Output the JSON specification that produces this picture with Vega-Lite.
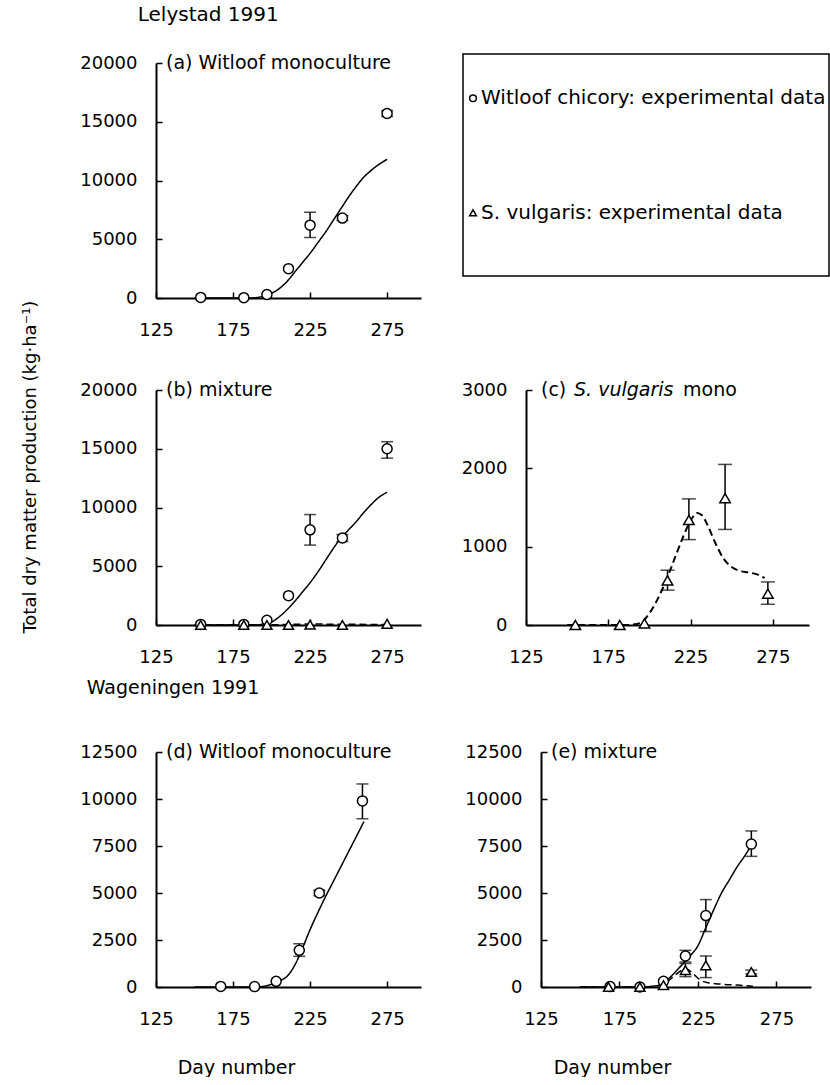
{
  "$schema": "https://vega.github.io/schema/vega-lite/v6.json",
  "background": "white",
  "padding": {"left": 21, "top": 5, "right": 0, "bottom": 0},
  "config": {
    "font": "DejaVu Sans",
    "view": {"stroke": null},
    "axis": {"domainColor": "black", "domainWidth": 2, "tickColor": "black", "tickWidth": 1.5, "tickSize": -6, "labelFont": "DejaVu Sans", "labelFontSize": 18, "labelColor": "black", "grid": false, "titleFont": "DejaVu Sans", "titleFontSize": 19, "titleFontWeight": "normal", "titleColor": "black"},
    "axisX": {"labelPadding": 29, "labelFlush": false},
    "axisY": {"labelPadding": 25},
    "title": {"font": "DejaVu Sans", "fontSize": 20, "fontWeight": "normal", "color": "black", "anchor": "start"}
  },
  "datasets": {
    "obs": [
      {"panel": "a", "species": "Witloof", "day": 154, "dm": 50},
      {"panel": "a", "species": "Witloof", "day": 182, "dm": 30},
      {"panel": "a", "species": "Witloof", "day": 197, "dm": 300},
      {"panel": "a", "species": "Witloof", "day": 211, "dm": 2500},
      {"panel": "a", "species": "Witloof", "day": 225, "dm": 6200, "lo": 5150, "hi": 7300},
      {"panel": "a", "species": "Witloof", "day": 246, "dm": 6800, "lo": 6600, "hi": 7000},
      {"panel": "a", "species": "Witloof", "day": 275, "dm": 15700, "lo": 15450, "hi": 15950},
      {"panel": "b", "species": "Witloof", "day": 154, "dm": 50},
      {"panel": "b", "species": "Witloof", "day": 182, "dm": 50},
      {"panel": "b", "species": "Witloof", "day": 197, "dm": 400},
      {"panel": "b", "species": "Witloof", "day": 211, "dm": 2500},
      {"panel": "b", "species": "Witloof", "day": 225, "dm": 8100, "lo": 6800, "hi": 9400},
      {"panel": "b", "species": "Witloof", "day": 246, "dm": 7400, "lo": 7100, "hi": 7700},
      {"panel": "b", "species": "Witloof", "day": 275, "dm": 15000, "lo": 14200, "hi": 15600},
      {"panel": "b", "species": "S. vulgaris", "day": 154, "dm": 0},
      {"panel": "b", "species": "S. vulgaris", "day": 182, "dm": 0},
      {"panel": "b", "species": "S. vulgaris", "day": 197, "dm": 0},
      {"panel": "b", "species": "S. vulgaris", "day": 211, "dm": 0},
      {"panel": "b", "species": "S. vulgaris", "day": 225, "dm": 20},
      {"panel": "b", "species": "S. vulgaris", "day": 246, "dm": 0},
      {"panel": "b", "species": "S. vulgaris", "day": 275, "dm": 100},
      {"panel": "c", "species": "S. vulgaris", "day": 155, "dm": 0},
      {"panel": "c", "species": "S. vulgaris", "day": 182, "dm": 0},
      {"panel": "c", "species": "S. vulgaris", "day": 197, "dm": 20},
      {"panel": "c", "species": "S. vulgaris", "day": 211, "dm": 570, "lo": 445, "hi": 700},
      {"panel": "c", "species": "S. vulgaris", "day": 224, "dm": 1340, "lo": 1090, "hi": 1610},
      {"panel": "c", "species": "S. vulgaris", "day": 246, "dm": 1620, "lo": 1220, "hi": 2050},
      {"panel": "c", "species": "S. vulgaris", "day": 272, "dm": 400, "lo": 265, "hi": 550},
      {"panel": "d", "species": "Witloof", "day": 167, "dm": 30},
      {"panel": "d", "species": "Witloof", "day": 189, "dm": 20},
      {"panel": "d", "species": "Witloof", "day": 203, "dm": 300},
      {"panel": "d", "species": "Witloof", "day": 218, "dm": 1950, "lo": 1630, "hi": 2300},
      {"panel": "d", "species": "Witloof", "day": 231, "dm": 5000, "lo": 4850, "hi": 5150},
      {"panel": "d", "species": "Witloof", "day": 259, "dm": 9900, "lo": 8950, "hi": 10800},
      {"panel": "e", "species": "Witloof", "day": 169, "dm": 20},
      {"panel": "e", "species": "Witloof", "day": 188, "dm": 0},
      {"panel": "e", "species": "Witloof", "day": 203, "dm": 300},
      {"panel": "e", "species": "Witloof", "day": 217, "dm": 1650, "lo": 1330, "hi": 1950},
      {"panel": "e", "species": "Witloof", "day": 230, "dm": 3800, "lo": 2950, "hi": 4650},
      {"panel": "e", "species": "Witloof", "day": 259, "dm": 7600, "lo": 6950, "hi": 8300},
      {"panel": "e", "species": "S. vulgaris", "day": 168, "dm": 0},
      {"panel": "e", "species": "S. vulgaris", "day": 188, "dm": 0},
      {"panel": "e", "species": "S. vulgaris", "day": 203, "dm": 100},
      {"panel": "e", "species": "S. vulgaris", "day": 217, "dm": 900, "lo": 550, "hi": 1250},
      {"panel": "e", "species": "S. vulgaris", "day": 230, "dm": 1150, "lo": 500, "hi": 1650},
      {"panel": "e", "species": "S. vulgaris", "day": 259, "dm": 800, "lo": 700, "hi": 900}
    ],
    "model": [
      {"panel": "a", "species": "Witloof", "day": 150, "dm": 0},
      {"panel": "a", "species": "Witloof", "day": 185, "dm": 0},
      {"panel": "a", "species": "Witloof", "day": 195, "dm": 150},
      {"panel": "a", "species": "Witloof", "day": 200, "dm": 400},
      {"panel": "a", "species": "Witloof", "day": 205, "dm": 800},
      {"panel": "a", "species": "Witloof", "day": 210, "dm": 1400},
      {"panel": "a", "species": "Witloof", "day": 215, "dm": 2200},
      {"panel": "a", "species": "Witloof", "day": 220, "dm": 3000},
      {"panel": "a", "species": "Witloof", "day": 225, "dm": 3800},
      {"panel": "a", "species": "Witloof", "day": 230, "dm": 4700},
      {"panel": "a", "species": "Witloof", "day": 235, "dm": 5600},
      {"panel": "a", "species": "Witloof", "day": 240, "dm": 6600},
      {"panel": "a", "species": "Witloof", "day": 245, "dm": 7600},
      {"panel": "a", "species": "Witloof", "day": 250, "dm": 8600},
      {"panel": "a", "species": "Witloof", "day": 255, "dm": 9500},
      {"panel": "a", "species": "Witloof", "day": 260, "dm": 10300},
      {"panel": "a", "species": "Witloof", "day": 265, "dm": 10900},
      {"panel": "a", "species": "Witloof", "day": 270, "dm": 11400},
      {"panel": "a", "species": "Witloof", "day": 275, "dm": 11800},
      {"panel": "b", "species": "Witloof", "day": 150, "dm": 0},
      {"panel": "b", "species": "Witloof", "day": 190, "dm": 0},
      {"panel": "b", "species": "Witloof", "day": 195, "dm": 100},
      {"panel": "b", "species": "Witloof", "day": 200, "dm": 250},
      {"panel": "b", "species": "Witloof", "day": 205, "dm": 700},
      {"panel": "b", "species": "Witloof", "day": 210, "dm": 1300},
      {"panel": "b", "species": "Witloof", "day": 215, "dm": 2000},
      {"panel": "b", "species": "Witloof", "day": 220, "dm": 2800},
      {"panel": "b", "species": "Witloof", "day": 225, "dm": 3600},
      {"panel": "b", "species": "Witloof", "day": 230, "dm": 4500},
      {"panel": "b", "species": "Witloof", "day": 235, "dm": 5500},
      {"panel": "b", "species": "Witloof", "day": 240, "dm": 6500},
      {"panel": "b", "species": "Witloof", "day": 245, "dm": 7400},
      {"panel": "b", "species": "Witloof", "day": 250, "dm": 8100},
      {"panel": "b", "species": "Witloof", "day": 255, "dm": 8800},
      {"panel": "b", "species": "Witloof", "day": 260, "dm": 9600},
      {"panel": "b", "species": "Witloof", "day": 265, "dm": 10300},
      {"panel": "b", "species": "Witloof", "day": 270, "dm": 10900},
      {"panel": "b", "species": "Witloof", "day": 275, "dm": 11300},
      {"panel": "b", "species": "S. vulgaris", "day": 150, "dm": 0},
      {"panel": "b", "species": "S. vulgaris", "day": 200, "dm": 20},
      {"panel": "b", "species": "S. vulgaris", "day": 225, "dm": 80},
      {"panel": "b", "species": "S. vulgaris", "day": 250, "dm": 60},
      {"panel": "b", "species": "S. vulgaris", "day": 275, "dm": 40},
      {"panel": "c", "species": "S. vulgaris", "day": 150, "dm": 0},
      {"panel": "c", "species": "S. vulgaris", "day": 185, "dm": 0},
      {"panel": "c", "species": "S. vulgaris", "day": 190, "dm": 5},
      {"panel": "c", "species": "S. vulgaris", "day": 195, "dm": 30},
      {"panel": "c", "species": "S. vulgaris", "day": 200, "dm": 150},
      {"panel": "c", "species": "S. vulgaris", "day": 205, "dm": 330},
      {"panel": "c", "species": "S. vulgaris", "day": 210, "dm": 560},
      {"panel": "c", "species": "S. vulgaris", "day": 215, "dm": 830},
      {"panel": "c", "species": "S. vulgaris", "day": 220, "dm": 1100},
      {"panel": "c", "species": "S. vulgaris", "day": 225, "dm": 1330},
      {"panel": "c", "species": "S. vulgaris", "day": 229, "dm": 1430},
      {"panel": "c", "species": "S. vulgaris", "day": 232, "dm": 1400},
      {"panel": "c", "species": "S. vulgaris", "day": 235, "dm": 1290},
      {"panel": "c", "species": "S. vulgaris", "day": 240, "dm": 1050},
      {"panel": "c", "species": "S. vulgaris", "day": 245, "dm": 850},
      {"panel": "c", "species": "S. vulgaris", "day": 250, "dm": 740},
      {"panel": "c", "species": "S. vulgaris", "day": 255, "dm": 690},
      {"panel": "c", "species": "S. vulgaris", "day": 260, "dm": 670},
      {"panel": "c", "species": "S. vulgaris", "day": 265, "dm": 650},
      {"panel": "c", "species": "S. vulgaris", "day": 270, "dm": 600},
      {"panel": "d", "species": "Witloof", "day": 150, "dm": 0},
      {"panel": "d", "species": "Witloof", "day": 190, "dm": 0},
      {"panel": "d", "species": "Witloof", "day": 195, "dm": 40},
      {"panel": "d", "species": "Witloof", "day": 200, "dm": 150},
      {"panel": "d", "species": "Witloof", "day": 205, "dm": 330},
      {"panel": "d", "species": "Witloof", "day": 210, "dm": 560},
      {"panel": "d", "species": "Witloof", "day": 215, "dm": 1150},
      {"panel": "d", "species": "Witloof", "day": 220, "dm": 2050},
      {"panel": "d", "species": "Witloof", "day": 225, "dm": 3050},
      {"panel": "d", "species": "Witloof", "day": 230, "dm": 3950},
      {"panel": "d", "species": "Witloof", "day": 235, "dm": 4800},
      {"panel": "d", "species": "Witloof", "day": 240, "dm": 5600},
      {"panel": "d", "species": "Witloof", "day": 245, "dm": 6400},
      {"panel": "d", "species": "Witloof", "day": 250, "dm": 7200},
      {"panel": "d", "species": "Witloof", "day": 255, "dm": 8000},
      {"panel": "d", "species": "Witloof", "day": 260, "dm": 8800},
      {"panel": "e", "species": "Witloof", "day": 150, "dm": 0},
      {"panel": "e", "species": "Witloof", "day": 190, "dm": 0},
      {"panel": "e", "species": "Witloof", "day": 195, "dm": 30},
      {"panel": "e", "species": "Witloof", "day": 200, "dm": 90},
      {"panel": "e", "species": "Witloof", "day": 205, "dm": 350},
      {"panel": "e", "species": "Witloof", "day": 210, "dm": 750},
      {"panel": "e", "species": "Witloof", "day": 215, "dm": 1200},
      {"panel": "e", "species": "Witloof", "day": 220, "dm": 1650},
      {"panel": "e", "species": "Witloof", "day": 225, "dm": 2200},
      {"panel": "e", "species": "Witloof", "day": 230, "dm": 3150},
      {"panel": "e", "species": "Witloof", "day": 235, "dm": 4100},
      {"panel": "e", "species": "Witloof", "day": 240, "dm": 5000},
      {"panel": "e", "species": "Witloof", "day": 245, "dm": 5700},
      {"panel": "e", "species": "Witloof", "day": 250, "dm": 6400},
      {"panel": "e", "species": "Witloof", "day": 255, "dm": 7000},
      {"panel": "e", "species": "Witloof", "day": 260, "dm": 7700},
      {"panel": "e", "species": "S. vulgaris", "day": 150, "dm": 0},
      {"panel": "e", "species": "S. vulgaris", "day": 190, "dm": 0},
      {"panel": "e", "species": "S. vulgaris", "day": 195, "dm": 20},
      {"panel": "e", "species": "S. vulgaris", "day": 200, "dm": 80},
      {"panel": "e", "species": "S. vulgaris", "day": 205, "dm": 250},
      {"panel": "e", "species": "S. vulgaris", "day": 210, "dm": 600},
      {"panel": "e", "species": "S. vulgaris", "day": 215, "dm": 900},
      {"panel": "e", "species": "S. vulgaris", "day": 218, "dm": 950},
      {"panel": "e", "species": "S. vulgaris", "day": 222, "dm": 700},
      {"panel": "e", "species": "S. vulgaris", "day": 226, "dm": 400},
      {"panel": "e", "species": "S. vulgaris", "day": 230, "dm": 250},
      {"panel": "e", "species": "S. vulgaris", "day": 240, "dm": 150},
      {"panel": "e", "species": "S. vulgaris", "day": 250, "dm": 100},
      {"panel": "e", "species": "S. vulgaris", "day": 260, "dm": 40}
    ]
  },
  "title": {"text": "Total dry matter production (kg·ha⁻¹)", "orient": "left", "anchor": "middle", "fontSize": 18, "offset": 40, "dx": 74},
  "spacing": 13,
  "vconcat": [
    {
      "spacing": 42,
      "vconcat": [
        {
          "title": {"text": "Lelystad 1991", "dx": 58, "offset": 28},
          "spacing": 41,
          "hconcat": [
            {
              "width": 265, "height": 235,
              "layer": [
                {"data": {"name": "model"}, "transform": [{"filter": "datum.panel === 'a'"}],
                 "mark": {"type": "line", "color": "black", "strokeWidth": 1.5, "interpolate": "monotone"},
                 "encoding": {
                   "x": {"field": "day", "type": "quantitative", "title": null, "scale": {"domain": [125, 297], "nice": false, "zero": false}, "axis": {"values": [125, 175, 225, 275], "format": "d"}},
                   "y": {"field": "dm", "type": "quantitative", "title": null, "scale": {"domain": [0, 20000], "nice": false}, "axis": {"values": [0, 2500, 5000, 7500, 10000, 12500, 15000, 17500, 20000], "format": "d", "labelExpr": "datum.value % 5000 === 0 ? datum.label : ''"}},
                   "strokeDash": {"field": "species", "type": "nominal", "scale": {"domain": ["Witloof", "S. vulgaris"], "range": [[1, 0], [7, 4]]}, "legend": null}
                 }},
                {"data": {"name": "obs"}, "transform": [{"filter": "datum.panel === 'a' && isValid(datum.lo)"}],
                 "mark": {"type": "errorbar", "thickness": 1.5, "color": "black", "ticks": {"size": 12, "thickness": 1.5, "color": "black"}},
                 "encoding": {"x": {"field": "day", "type": "quantitative", "title": null}, "y": {"field": "lo", "type": "quantitative", "title": null}, "y2": {"field": "hi"}}},
                {"data": {"name": "obs"}, "transform": [{"filter": "datum.panel === 'a'"}],
                 "mark": {"type": "point", "filled": true, "fill": "white", "stroke": "black", "strokeWidth": 1.5, "size": 100, "opacity": 1},
                 "encoding": {"x": {"field": "day", "type": "quantitative", "title": null}, "y": {"field": "dm", "type": "quantitative", "title": null}, "shape": {"field": "species", "type": "nominal", "scale": {"domain": ["Witloof", "S. vulgaris"], "range": ["circle", "triangle-up"]}, "legend": null}}},
                {"data": {"values": [{"label": "(a) Witloof monoculture"}]},
                 "mark": {"type": "text", "align": "left", "baseline": "middle", "dx": 10, "fontSize": 19, "color": "black"},
                 "encoding": {"x": {"datum": 125, "type": "quantitative", "title": null}, "y": {"datum": 20000, "type": "quantitative", "title": null}, "text": {"field": "label"}}}
              ]
            },
            {
              "width": 366, "height": 213,
              "layer": [
                {"data": {"values": [{"box": "legend"}]},
                 "mark": {"type": "rect", "fill": "white", "fillOpacity": 0, "stroke": "black", "strokeWidth": 1.5, "yOffset": -9, "y2Offset": -9},
                 "encoding": {}},
                {"data": {"values": [{"label": "Witloof chicory: experimental data", "species": "Witloof"}, {"label": "S. vulgaris: experimental data", "species": "S. vulgaris"}]},
                 "mark": {"type": "point", "filled": false, "stroke": "black", "strokeWidth": 1.5, "size": 45, "xOffset": 10, "yOffset": -14, "opacity": 1},
                 "encoding": {
                   "y": {"field": "label", "type": "nominal", "sort": null, "scale": {"type": "point", "padding": 0.43}, "axis": null},
                   "x": {"datum": 0, "type": "quantitative", "scale": {"domain": [0, 1]}, "axis": null},
                   "shape": {"field": "species", "type": "nominal", "scale": {"domain": ["Witloof", "S. vulgaris"], "range": ["circle", "triangle-up"]}, "legend": null}
                 }},
                {"data": {"values": [{"label": "Witloof chicory: experimental data", "species": "Witloof"}, {"label": "S. vulgaris: experimental data", "species": "S. vulgaris"}]},
                 "mark": {"type": "text", "align": "left", "baseline": "middle", "dx": 18, "yOffset": -14, "fontSize": 20, "color": "black"},
                 "encoding": {
                   "y": {"field": "label", "type": "nominal", "sort": null, "scale": {"type": "point", "padding": 0.43}, "axis": null},
                   "x": {"datum": 0, "type": "quantitative", "scale": {"domain": [0, 1]}, "axis": null},
                   "text": {"field": "label"}
                 }}
              ]
            }
          ]
        },
        {
          "spacing": 40,
          "hconcat": [
            {
              "width": 265, "height": 235,
              "layer": [
                {"data": {"name": "model"}, "transform": [{"filter": "datum.panel === 'b'"}],
                 "mark": {"type": "line", "color": "black", "strokeWidth": 1.5, "interpolate": "monotone"},
                 "encoding": {
                   "x": {"field": "day", "type": "quantitative", "title": null, "scale": {"domain": [125, 297], "nice": false, "zero": false}, "axis": {"values": [125, 175, 225, 275], "format": "d"}},
                   "y": {"field": "dm", "type": "quantitative", "title": null, "scale": {"domain": [0, 20000], "nice": false}, "axis": {"values": [0, 2500, 5000, 7500, 10000, 12500, 15000, 17500, 20000], "format": "d", "labelExpr": "datum.value % 5000 === 0 ? datum.label : ''"}},
                   "strokeDash": {"field": "species", "type": "nominal", "scale": {"domain": ["Witloof", "S. vulgaris"], "range": [[1, 0], [7, 4]]}, "legend": null}
                 }},
                {"data": {"name": "obs"}, "transform": [{"filter": "datum.panel === 'b' && isValid(datum.lo)"}],
                 "mark": {"type": "errorbar", "thickness": 1.5, "color": "black", "ticks": {"size": 12, "thickness": 1.5, "color": "black"}},
                 "encoding": {"x": {"field": "day", "type": "quantitative", "title": null}, "y": {"field": "lo", "type": "quantitative", "title": null}, "y2": {"field": "hi"}}},
                {"data": {"name": "obs"}, "transform": [{"filter": "datum.panel === 'b'"}],
                 "mark": {"type": "point", "filled": true, "fill": "white", "stroke": "black", "strokeWidth": 1.5, "size": 100, "opacity": 1},
                 "encoding": {"x": {"field": "day", "type": "quantitative", "title": null}, "y": {"field": "dm", "type": "quantitative", "title": null}, "shape": {"field": "species", "type": "nominal", "scale": {"domain": ["Witloof", "S. vulgaris"], "range": ["circle", "triangle-up"]}, "legend": null}}},
                {"data": {"values": [{"label": "(b) mixture"}]},
                 "mark": {"type": "text", "align": "left", "baseline": "middle", "dx": 10, "fontSize": 19, "color": "black"},
                 "encoding": {"x": {"datum": 125, "type": "quantitative", "title": null}, "y": {"datum": 20000, "type": "quantitative", "title": null}, "text": {"field": "label"}}}
              ]
            },
            {
              "width": 283, "height": 235,
              "layer": [
                {"data": {"name": "model"}, "transform": [{"filter": "datum.panel === 'c'"}],
                 "mark": {"type": "line", "color": "black", "strokeWidth": 2, "interpolate": "monotone"},
                 "encoding": {
                   "x": {"field": "day", "type": "quantitative", "title": null, "scale": {"domain": [125, 297], "nice": false, "zero": false}, "axis": {"values": [125, 175, 225, 275], "format": "d"}},
                   "y": {"field": "dm", "type": "quantitative", "title": null, "scale": {"domain": [0, 3000], "nice": false}, "axis": {"values": [0, 500, 1000, 1500, 2000, 2500, 3000], "format": "d", "labelExpr": "datum.value % 1000 === 0 ? datum.label : ''"}},
                   "strokeDash": {"field": "species", "type": "nominal", "scale": {"domain": ["Witloof", "S. vulgaris"], "range": [[1, 0], [7, 4]]}, "legend": null}
                 }},
                {"data": {"name": "obs"}, "transform": [{"filter": "datum.panel === 'c' && isValid(datum.lo)"}],
                 "mark": {"type": "errorbar", "thickness": 1.5, "color": "black", "ticks": {"size": 14, "thickness": 1.5, "color": "black"}},
                 "encoding": {"x": {"field": "day", "type": "quantitative", "title": null}, "y": {"field": "lo", "type": "quantitative", "title": null}, "y2": {"field": "hi"}}},
                {"data": {"name": "obs"}, "transform": [{"filter": "datum.panel === 'c'"}],
                 "mark": {"type": "point", "filled": true, "fill": "white", "stroke": "black", "strokeWidth": 1.5, "size": 110, "opacity": 1},
                 "encoding": {"x": {"field": "day", "type": "quantitative", "title": null}, "y": {"field": "dm", "type": "quantitative", "title": null}, "shape": {"field": "species", "type": "nominal", "scale": {"domain": ["Witloof", "S. vulgaris"], "range": ["circle", "triangle-up"]}, "legend": null}}},
                {"data": {"values": [{"label": "(c)"}]},
                 "mark": {"type": "text", "align": "left", "baseline": "middle", "dx": 15, "fontSize": 19, "color": "black"},
                 "encoding": {"x": {"datum": 125, "type": "quantitative", "title": null}, "y": {"datum": 3000, "type": "quantitative", "title": null}, "text": {"field": "label"}}},
                {"data": {"values": [{"label": "S. vulgaris"}]},
                 "mark": {"type": "text", "align": "left", "baseline": "middle", "dx": 48, "fontSize": 19, "fontStyle": "italic", "color": "black"},
                 "encoding": {"x": {"datum": 125, "type": "quantitative", "title": null}, "y": {"datum": 3000, "type": "quantitative", "title": null}, "text": {"field": "label"}}},
                {"data": {"values": [{"label": "mono"}]},
                 "mark": {"type": "text", "align": "left", "baseline": "middle", "dx": 157, "fontSize": 19, "color": "black"},
                 "encoding": {"x": {"datum": 125, "type": "quantitative", "title": null}, "y": {"datum": 3000, "type": "quantitative", "title": null}, "text": {"field": "label"}}}
              ]
            }
          ]
        }
      ]
    },
    {
      "title": {"text": "Wageningen 1991", "dx": 7, "offset": 45, "fontSize": 19},
      "spacing": 43,
      "hconcat": [
        {
          "width": 265, "height": 235,
          "layer": [
            {"data": {"name": "model"}, "transform": [{"filter": "datum.panel === 'd'"}],
             "mark": {"type": "line", "color": "black", "strokeWidth": 1.5, "interpolate": "monotone"},
             "encoding": {
               "x": {"field": "day", "type": "quantitative", "title": "Day number", "scale": {"domain": [125, 297], "nice": false, "zero": false}, "axis": {"values": [125, 175, 225, 275], "format": "d", "titlePadding": 30, "titleX": 80}},
               "y": {"field": "dm", "type": "quantitative", "title": null, "scale": {"domain": [0, 12500], "nice": false}, "axis": {"values": [0, 2500, 5000, 7500, 10000, 12500], "format": "d"}},
               "strokeDash": {"field": "species", "type": "nominal", "scale": {"domain": ["Witloof", "S. vulgaris"], "range": [[1, 0], [7, 4]]}, "legend": null}
             }},
            {"data": {"name": "obs"}, "transform": [{"filter": "datum.panel === 'd' && isValid(datum.lo)"}],
             "mark": {"type": "errorbar", "thickness": 1.5, "color": "black", "ticks": {"size": 12, "thickness": 1.5, "color": "black"}},
             "encoding": {"x": {"field": "day", "type": "quantitative", "title": "Day number"}, "y": {"field": "lo", "type": "quantitative", "title": null}, "y2": {"field": "hi"}}},
            {"data": {"name": "obs"}, "transform": [{"filter": "datum.panel === 'd'"}],
             "mark": {"type": "point", "filled": true, "fill": "white", "stroke": "black", "strokeWidth": 1.5, "size": 100, "opacity": 1},
             "encoding": {"x": {"field": "day", "type": "quantitative", "title": "Day number"}, "y": {"field": "dm", "type": "quantitative", "title": null}, "shape": {"field": "species", "type": "nominal", "scale": {"domain": ["Witloof", "S. vulgaris"], "range": ["circle", "triangle-up"]}, "legend": null}}},
            {"data": {"values": [{"label": "(d) Witloof monoculture"}]},
             "mark": {"type": "text", "align": "left", "baseline": "middle", "dx": 10, "fontSize": 19, "color": "black"},
             "encoding": {"x": {"datum": 125, "type": "quantitative", "title": "Day number"}, "y": {"datum": 12500, "type": "quantitative", "title": null}, "text": {"field": "label"}}}
          ]
        },
        {
          "width": 270, "height": 235,
          "layer": [
            {"data": {"name": "model"}, "transform": [{"filter": "datum.panel === 'e'"}],
             "mark": {"type": "line", "color": "black", "strokeWidth": 1.5, "interpolate": "monotone"},
             "encoding": {
               "x": {"field": "day", "type": "quantitative", "title": "Day number", "scale": {"domain": [125, 297], "nice": false, "zero": false}, "axis": {"values": [125, 175, 225, 275], "format": "d", "titlePadding": 30, "titleX": 71}},
               "y": {"field": "dm", "type": "quantitative", "title": null, "scale": {"domain": [0, 12500], "nice": false}, "axis": {"values": [0, 2500, 5000, 7500, 10000, 12500], "format": "d"}},
               "strokeDash": {"field": "species", "type": "nominal", "scale": {"domain": ["Witloof", "S. vulgaris"], "range": [[1, 0], [7, 4]]}, "legend": null}
             }},
            {"data": {"name": "obs"}, "transform": [{"filter": "datum.panel === 'e' && isValid(datum.lo)"}],
             "mark": {"type": "errorbar", "thickness": 1.5, "color": "black", "ticks": {"size": 12, "thickness": 1.5, "color": "black"}},
             "encoding": {"x": {"field": "day", "type": "quantitative", "title": "Day number"}, "y": {"field": "lo", "type": "quantitative", "title": null}, "y2": {"field": "hi"}}},
            {"data": {"name": "obs"}, "transform": [{"filter": "datum.panel === 'e'"}],
             "mark": {"type": "point", "filled": true, "fill": "white", "stroke": "black", "strokeWidth": 1.5, "size": 100, "opacity": 1},
             "encoding": {"x": {"field": "day", "type": "quantitative", "title": "Day number"}, "y": {"field": "dm", "type": "quantitative", "title": null}, "shape": {"field": "species", "type": "nominal", "scale": {"domain": ["Witloof", "S. vulgaris"], "range": ["circle", "triangle-up"]}, "legend": null}}},
            {"data": {"values": [{"label": "(e) mixture"}]},
             "mark": {"type": "text", "align": "left", "baseline": "middle", "dx": 10, "fontSize": 19, "color": "black"},
             "encoding": {"x": {"datum": 125, "type": "quantitative", "title": "Day number"}, "y": {"datum": 12500, "type": "quantitative", "title": null}, "text": {"field": "label"}}}
          ]
        }
      ]
    }
  ]
}
